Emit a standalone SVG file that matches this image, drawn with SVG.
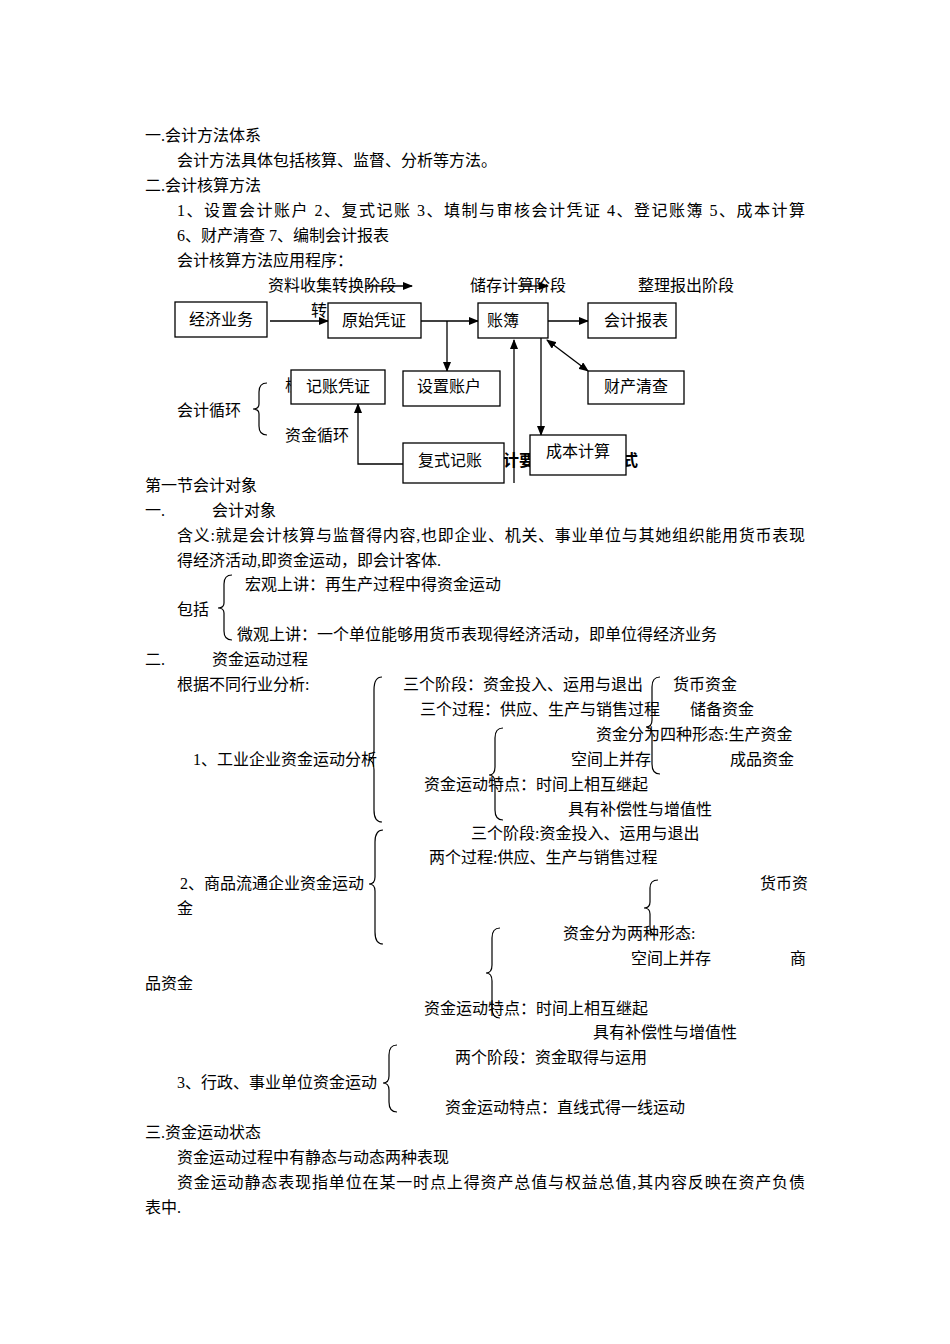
<svg xmlns="http://www.w3.org/2000/svg" width="950" height="1344" viewBox="0 0 950 1344">
<style>
text{font-family:"Liberation Serif","Noto Sans CJK SC",serif;font-size:16px;fill:#000}
.b{fill:#fff;stroke:#000;stroke-width:1.3}
.l{fill:none;stroke:#000;stroke-width:1.3}
.br{fill:none;stroke:#000;stroke-width:1.2}
</style>
<defs><marker id="a" markerWidth="10" markerHeight="8" refX="9" refY="4" orient="auto-start-reverse" markerUnits="userSpaceOnUse"><path d="M0,0L10,4L0,8z"/></marker></defs>
<rect width="950" height="1344" fill="#fff"/>
<g id="text">
<text x="145" y="141">一.会计方法体系</text>
<text x="177" y="166">会计方法具体包括核算、监督、分析等方法。</text>
<text x="145" y="191">二.会计核算方法</text>
<text x="177" y="216" textLength="628">1、设置会计账户  2、复式记账  3、填制与审核会计凭证  4、登记账簿  5、成本计算</text>
<text x="177" y="241">6、财产清查  7、编制会计报表</text>
<text x="177" y="266">会计核算方法应用程序：</text>
<text x="268" y="291">资料收集转换阶段</text>
<text x="470" y="291">储存计算阶段</text>
<text x="638" y="291">整理报出阶段</text>
<text x="311" y="316">转</text>
<text x="285" y="391">核</text>
<text x="177" y="416">会计循环</text>
<text x="285" y="441">资金循环</text>
<text x="503" y="466" font-weight="bold">计要</text>
<text x="622" y="466" font-weight="bold">式</text>
<text x="145" y="491">第一节会计对象</text>
<text x="145" y="516">一.</text><text x="212" y="516">会计对象</text>
<text x="177" y="541" textLength="628">含义:就是会计核算与监督得内容,也即企业、机关、事业单位与其她组织能用货币表现</text>
<text x="177" y="566">得经济活动,即资金运动，即会计客体.</text>
<text x="245" y="590">宏观上讲：再生产过程中得资金运动</text>
<text x="177" y="615">包括</text>
<text x="237" y="640">微观上讲：一个单位能够用货币表现得经济活动，即单位得经济业务</text>
<text x="145" y="665">二.</text><text x="212" y="665">资金运动过程</text>
<text x="177" y="690">根据不同行业分析:</text>
<text x="403" y="690">三个阶段：资金投入、运用与退出</text>
<text x="673" y="690">货币资金</text>
<text x="420" y="715">三个过程：供应、生产与销售过程</text>
<text x="690" y="715">储备资金</text>
<text x="596" y="740">资金分为四种形态:生产资金</text>
<text x="193" y="765">1、工业企业资金运动分析</text>
<text x="571" y="765">空间上并存</text>
<text x="730" y="765">成品资金</text>
<text x="424" y="790">资金运动特点：时间上相互继起</text>
<text x="568" y="815">具有补偿性与增值性</text>
<text x="471" y="839">三个阶段:资金投入、运用与退出</text>
<text x="429" y="863">两个过程:供应、生产与销售过程</text>
<text x="180" y="889">2、商品流通企业资金运动</text>
<text x="760" y="889">货币资</text>
<text x="177" y="914">金</text>
<text x="563" y="939">资金分为两种形态:</text>
<text x="631" y="964">空间上并存</text>
<text x="790" y="964">商</text>
<text x="145" y="989">品资金</text>
<text x="424" y="1014">资金运动特点：时间上相互继起</text>
<text x="593" y="1038">具有补偿性与增值性</text>
<text x="455" y="1063">两个阶段：资金取得与运用</text>
<text x="177" y="1088">3、行政、事业单位资金运动</text>
<text x="445" y="1113">资金运动特点：直线式得一线运动</text>
<text x="145" y="1138">三.资金运动状态</text>
<text x="177" y="1163">资金运动过程中有静态与动态两种表现</text>
<text x="177" y="1188" textLength="628">资金运动静态表现指单位在某一时点上得资产总值与权益总值,其内容反映在资产负债</text>
<text x="145" y="1213">表中.</text>
</g>
<g id="connectors">
<path class="l" d="M365,286H412" marker-end="url(#a)"/>
<path class="l" d="M518,286H548" marker-end="url(#a)"/>
<path class="l" d="M270,321H328" marker-end="url(#a)"/>
<path class="l" d="M421,321H478" marker-end="url(#a)"/>
<path class="l" d="M447,321V371" marker-end="url(#a)"/>
<path class="l" d="M548,321H588" marker-end="url(#a)"/>
<path class="l" d="M541,338V435" marker-end="url(#a)"/>
<path class="l" d="M547,340L588,371" marker-start="url(#a)" marker-end="url(#a)"/>
<path class="l" d="M514,483V340" marker-end="url(#a)"/>
<path class="l" d="M403,464H358V404" marker-end="url(#a)"/>
<path class="br" d="M267,383Q259,383 259,392V404Q259,409 253,409Q259,409 259,414V426Q259,435 267,435"/>
<path class="br" d="M232,575Q224,575 224,584V603Q224,608 218,608Q224,608 224,613V631Q224,640 232,640"/>
<path class="br" d="M382,677Q374,677 374,690V750Q374,760 368,760Q374,760 374,770V810Q374,822 382,822"/>
<path class="br" d="M660,677Q652,677 652,687V720Q652,727 646,727Q652,727 652,734V764Q652,774 660,774"/>
<path class="br" d="M503,728Q495,728 495,738V767Q495,775 489,775Q495,775 495,783V810Q495,820 503,820"/>
<path class="br" d="M383,830Q375,830 375,842V877Q375,884 369,884Q375,884 375,891V932Q375,944 383,944"/>
<path class="br" d="M658,880Q650,880 650,888V902Q650,908 644,908Q650,908 650,914V927Q650,935 658,935"/>
<path class="br" d="M500,928Q492,928 492,938V965Q492,973 486,973Q492,973 492,981V1008Q492,1018 500,1018"/>
<path class="br" d="M397,1045Q389,1045 389,1055V1076Q389,1083 383,1083Q389,1083 389,1090V1102Q389,1112 397,1112"/>
</g>
<g id="n1"><rect class="b" x="175" y="302" width="92" height="35"/><text x="221" y="325" text-anchor="middle">经济业务</text></g>
<g id="n2"><rect class="b" x="328" y="303" width="93" height="35"/><text x="374" y="326" text-anchor="middle">原始凭证</text></g>
<g id="n3"><rect class="b" x="478" y="303" width="70" height="35"/><text x="503" y="326" text-anchor="middle">账簿</text></g>
<g id="n4"><rect class="b" x="588" y="303" width="88" height="35"/><text x="636" y="326" text-anchor="middle">会计报表</text></g>
<g id="n5"><rect class="b" x="403" y="371" width="97" height="35"/><text x="449" y="392" text-anchor="middle">设置账户</text></g>
<g id="n6"><rect class="b" x="291" y="370" width="94" height="34"/><text x="338" y="392" text-anchor="middle">记账凭证</text></g>
<g id="n7"><rect class="b" x="588" y="371" width="96" height="33"/><text x="636" y="392" text-anchor="middle">财产清查</text></g>
<g id="n8"><rect class="b" x="403" y="443" width="101" height="40"/><text x="450" y="466" text-anchor="middle">复式记账</text></g>
<g id="n9"><rect class="b" x="530" y="435" width="96" height="40"/><text x="578" y="457" text-anchor="middle">成本计算</text></g>
</svg>
